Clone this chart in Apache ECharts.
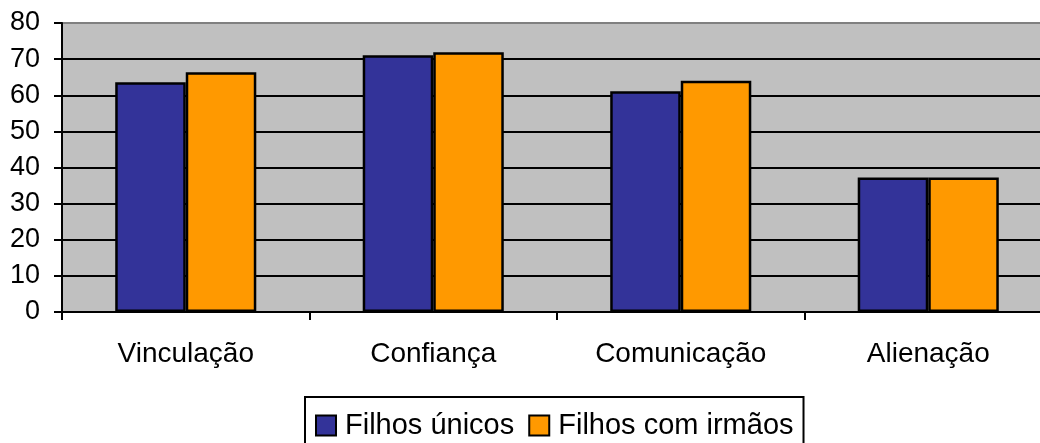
<!DOCTYPE html>
<html><head><meta charset="utf-8">
<script src="https://cdn.jsdelivr.net/npm/echarts@6/dist/echarts.min.js"></script>
<style>html,body{margin:0;padding:0;background:#fff}#c{width:1040px;height:443px}</style>
</head><body><div id="c"></div>
<script>
const categories = ['Vinculação', 'Confiança', 'Comunicação', 'Alienação'];
const seriesNames = ['Filhos únicos', 'Filhos com irmãos'];
const filhosUnicos = [63.6, 71.1, 61.1, 37.2];
const filhosComIrmaos = [66.4, 71.9, 64.0, 37.2];
const yMin = 0, yMax = 80, yStep = 10;

const chart = echarts.init(document.getElementById('c'), null, {renderer: 'canvas'});
const font = 'Arial, "Liberation Sans", sans-serif';
chart.setOption({
  animation: false,
  backgroundColor: '#fff',
  grid: {left: 62, width: 990, top: 23, height: 289, show: true, backgroundColor: '#C0C0C0', borderWidth: 0,
         containLabel: false, outerBoundsMode: 'none'},
  legend: {
    left: 305, top: 397, orient: 'horizontal',
    padding: [14, 10, 20, 10], itemGap: 14, itemWidth: 20, itemHeight: 20,
    borderColor: '#000', borderWidth: 2, icon: 'rect',
    textStyle: {fontFamily: font, fontSize: 29, color: '#000', padding: [0, 0, 0, 4]},
    data: seriesNames
  },
  xAxis: {
    type: 'category', data: categories,
    axisLine: {lineStyle: {color: '#000', width: 2}},
    axisTick: {show: true, alignWithLabel: false, length: 8, lineStyle: {color: '#000', width: 2}},
    axisLabel: {fontFamily: font, fontSize: 28, color: '#000', margin: 28},
    splitLine: {show: false}
  },
  yAxis: {
    type: 'value', min: yMin, max: yMax, interval: yStep,
    axisLine: {show: true, lineStyle: {color: '#000', width: 2}},
    axisTick: {show: true, length: 8, lineStyle: {color: '#000', width: 2}},
    axisLabel: {fontFamily: font, fontSize: 27, color: '#000', margin: 22},
    splitLine: {show: true, lineStyle: {color: ['#000','#000','#000','#000','#000','#000','#000','#000','#808080'], width: 2}}
  },
  series: [
    {name: seriesNames[0], type: 'bar', data: filhosUnicos, barGap: '0%', barCategoryGap: '43%',
     itemStyle: {color: '#333399', borderColor: '#000', borderWidth: 2.5}},
    {name: seriesNames[1], type: 'bar', data: filhosComIrmaos, barGap: '0%', barCategoryGap: '43%',
     itemStyle: {color: '#FF9900', borderColor: '#000', borderWidth: 2.5}}
  ]
});
</script></body></html>
